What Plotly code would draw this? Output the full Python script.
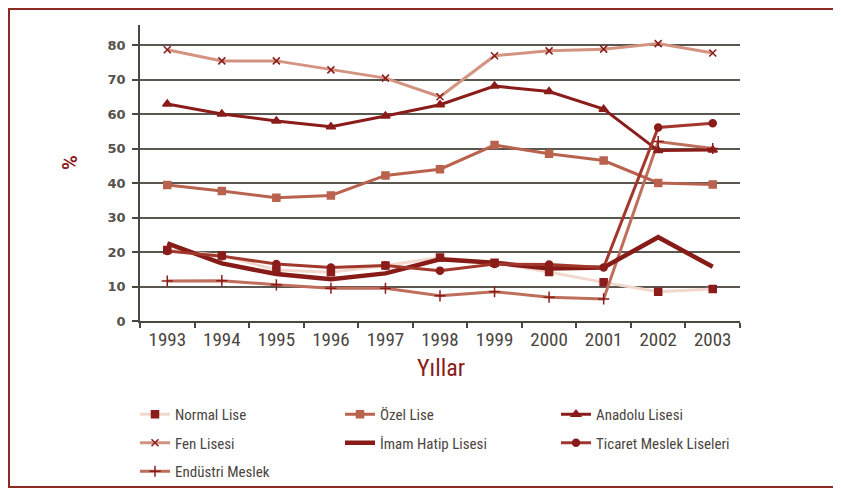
import plotly.graph_objects as go

years = ["1993", "1994", "1995", "1996", "1997", "1998", "1999", "2000", "2001", "2002", "2003"]

normal_lise = [20.6, 19.0, 14.8, 14.1, 16.1, 18.4, 16.9, 14.2, 11.2, 8.5, 9.3]
ozel_lise = [39.4, 37.7, 35.7, 36.4, 42.2, 44.0, 51.0, 48.5, 46.5, 40.0, 39.6]
anadolu_lisesi = [62.9, 60.0, 58.0, 56.3, 59.4, 62.7, 68.1, 66.5, 61.4, 49.4, 49.6]
fen_lisesi = [78.6, 75.4, 75.4, 72.8, 70.4, 65.0, 76.9, 78.3, 78.8, 80.4, 77.7]
imam_hatip = [22.5, 16.7, 13.6, 12.1, 13.8, 17.9, 16.9, 15.2, 15.5, 24.3, 15.7]
ticaret_meslek = [20.3, 18.8, 16.5, 15.5, 16.1, 14.6, 16.5, 16.4, 15.5, 56.1, 57.3]
endustri_meslek = [11.6, 11.7, 10.5, 9.5, 9.5, 7.3, 8.5, 6.9, 6.4, 52.0, 50.0]

y_ticks = [0, 10, 20, 30, 40, 50, 60, 70, 80]

DARK = "#8a1c1a"
TEXT = "#4a4540"
FONT = "Roboto Condensed, sans-serif"

fig = go.Figure()

def add(name, vals, line_color, width, symbol, marker_color, size, legend, group):
    mode = "lines+markers" if symbol else "lines"
    kw = dict(
        x=years, y=vals, name=name, mode=mode,
        line=dict(color=line_color, width=width),
        legend=legend, legendgroup=group,
    )
    if symbol:
        kw["marker"] = dict(symbol=symbol, color=marker_color, size=size,
                            line=dict(color=marker_color, width=1.5))
    fig.add_trace(go.Scatter(**kw))

add("Normal Lise", normal_lise, "#f2d8cc", 3, "square", DARK, 7, "legend", "a")
add("Fen Lisesi", fen_lisesi, "#d39380", 3, "x-thin", DARK, 7, "legend", "b")
add("Endüstri Meslek", endustri_meslek, "#be6e5b", 3, "cross-thin", DARK, 8, "legend", "c")
add("Özel Lise", ozel_lise, "#b9634e", 3, "square", "#b9634e", 7, "legend2", "d")
add("İmam Hatip Lisesi", imam_hatip, "#861b18", 4.5, None, None, 0, "legend2", "e")
add("Anadolu Lisesi", anadolu_lisesi, "#8a1c1a", 3, "triangle-up", "#8a1c1a", 8, "legend3", "f")
add("Ticaret Meslek Liseleri", ticaret_meslek, "#a2372c", 3, "circle", "#8a1c1a", 7, "legend3", "g")

leg_common = dict(
    orientation="v", xanchor="left", yanchor="top", bgcolor="rgba(0,0,0,0)",
    font=dict(family=FONT, size=15, color=TEXT), tracegroupgap=6,
    traceorder="grouped", itemclick=False, itemdoubleclick=False,
)
# page-pixel helpers (relative to the plot area, which spans page x 140..740, y 25..321)
py = lambda p: (321 - p) / 296.0
px = lambda p: (p - 140) / 600.0

fig.update_layout(
    width=841, height=488,
    margin=dict(l=132, r=109, t=17, b=175, autoexpand=False),
    paper_bgcolor="white", plot_bgcolor="white",
    legend=dict(x=px(135), y=py(398), **leg_common),
    legend2=dict(x=px(340), y=py(398), **leg_common),
    legend3=dict(x=px(556), y=py(398), **leg_common),
    xaxis=dict(
        type="category", showgrid=False, showline=True, linecolor="#4a4741", linewidth=1.5,
        ticks="outside", tickson="boundaries", ticklen=5, tickcolor="#4a4741", tickwidth=1.5,
        tickfont=dict(family=FONT, size=19, color=TEXT), tickangle=0, automargin=False,
        range=[-0.5, 10.5], fixedrange=True,
    ),
    yaxis=dict(
        range=[0, 85.8], tickvals=y_ticks, showgrid=True, gridcolor="#5a5650", gridwidth=1.5,
        showline=True, linecolor="#4a4741", linewidth=1.5, zeroline=False, automargin=False,
        ticks="outside", ticklen=6, tickcolor="#4a4741", tickwidth=1.5,
        tickfont=dict(family="DejaVu Sans", size=13, color="#57524c", weight="bold"),
        ticklabelstandoff=4, fixedrange=True,
    ),
    showlegend=True,
)

fig.add_annotation(
    text="%", xref="paper", yref="paper", x=px(70), y=py(163), showarrow=False,
    xanchor="center", yanchor="middle",
    textangle=-90, font=dict(family="Roboto", size=20, color=DARK, weight="bold"),
)
fig.add_annotation(
    text="Yıllar", xref="paper", yref="paper", x=px(441), y=py(368), showarrow=False,
    xanchor="center", yanchor="middle",
    font=dict(family=FONT, size=24, color=DARK),
)
fig.add_shape(
    type="rect", xref="paper", yref="paper",
    x0=px(9), x1=px(839), y0=py(487), y1=py(9),
    line=dict(color="#8e2a24", width=2), fillcolor="rgba(0,0,0,0)", layer="below",
)

fig.write_html("out.html")
